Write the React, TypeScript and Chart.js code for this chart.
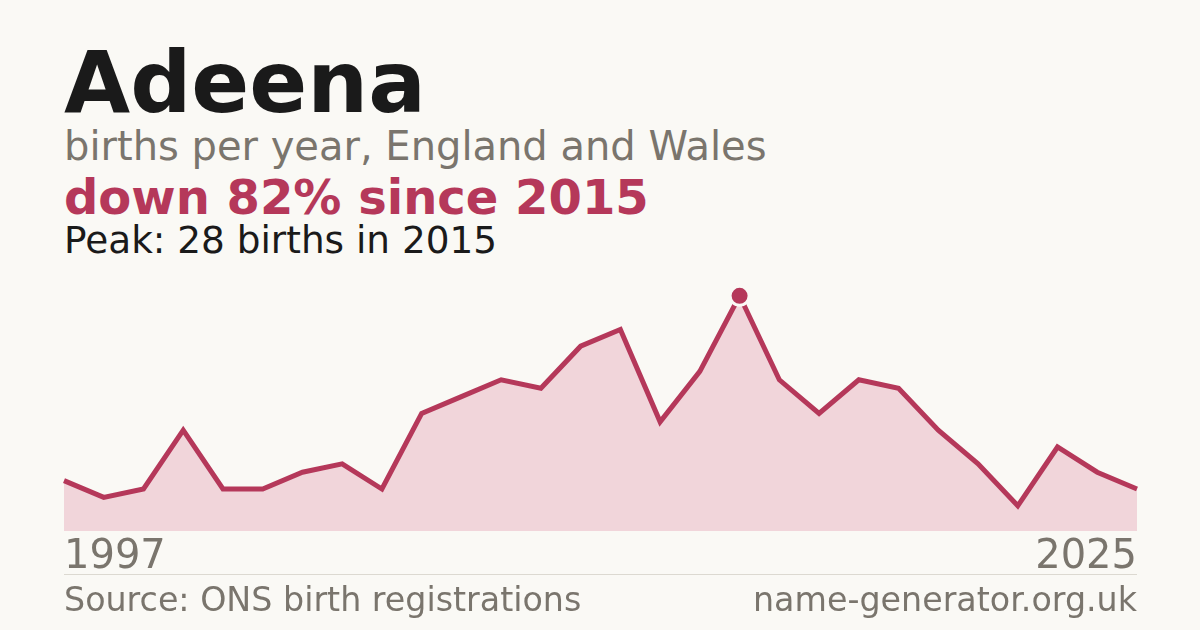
import React, { useEffect, useRef } from "react";
import { Chart, registerables } from "chart.js";

Chart.register(...registerables);

const years = [
  "1997", "1998", "1999", "2001", "2002", "2003", "2004", "2005", "2006", "2007",
  "2008", "2009", "2010", "2011", "2012", "2013", "2014", "2015", "2016", "2017",
  "2018", "2019", "2020", "2021", "2022", "2023", "2024", "2025",
];
const births = [6, 4, 5, 12, 5, 5, 7, 8, 5, 14, 16, 18, 17, 22, 24, 13, 19, 28, 18, 14, 18, 17, 12, 8, 3, 10, 7, 5];
const peakYear = "2015";

const BG = "#faf9f5";
const CRIMSON = "#b5385a";
const FILL = "#f1d5da";
const GREY = "#7a756d";
const FONT = "'DejaVu Sans', sans-serif";

function AreaChart() {
  const ref = useRef<HTMLCanvasElement | null>(null);
  useEffect(() => {
    if (!ref.current) return;
    const peakIdx = years.indexOf(peakYear);
    const chart = new Chart(ref.current, {
      type: "line",
      data: {
        labels: years,
        datasets: [
          {
            data: births,
            borderColor: CRIMSON,
            borderWidth: 5,
            backgroundColor: FILL,
            fill: "origin",
            tension: 0,
            clip: false,
            pointRadius: births.map((_, i) => (i === peakIdx ? 9.5 : 0)),
            pointBackgroundColor: CRIMSON,
            pointBorderColor: BG,
            pointBorderWidth: 3,
          },
        ],
      },
      options: {
        animation: false,
        responsive: true,
        maintainAspectRatio: false,
        layout: { padding: 0, autoPadding: false },
        plugins: { legend: { display: false }, tooltip: { enabled: false } },
        scales: {
          x: {
            type: "category",
            offset: false,
            grid: { display: false, drawTicks: false },
            border: { display: false },
            ticks: {
              autoSkip: false,
              maxRotation: 0,
              minRotation: 0,
              align: "inner",
              padding: 3,
              color: GREY,
              font: { family: FONT, size: 40 },
              callback: (_v: any, i: number) =>
                i === 0 || i === years.length - 1 ? years[i] : "",
            },
          },
          y: { display: false, min: 0, max: 30 },
        },
      },
    });
    return () => chart.destroy();
  }, []);
  return <canvas ref={ref} />;
}

const textBase: React.CSSProperties = {
  position: "absolute",
  left: 64,
  margin: 0,
  fontFamily: FONT,
  lineHeight: 1,
  whiteSpace: "nowrap",
};

export default function App() {
  return (
    <div
      style={{
        position: "fixed",
        left: 0,
        top: 0,
        width: 1200,
        height: 630,
        background: BG,
        overflow: "hidden",
      }}
    >
      <div style={{ ...textBase, top: 40, fontSize: 85.5, fontWeight: 700, color: "#1a1a1a" }}>Adeena</div>
      <div style={{ ...textBase, top: 126, fontSize: 40, color: GREY }}>births per year, England and Wales</div>
      <div style={{ ...textBase, top: 173, fontSize: 48, fontWeight: 700, color: CRIMSON }}>down 82% since 2015</div>
      <div style={{ ...textBase, top: 222, fontSize: 37.4, color: "#1a1a1a" }}>Peak: 28 births in 2015</div>
      <div style={{ position: "absolute", left: 61, top: 279, width: 1079, height: 306 }}>
        <AreaChart />
      </div>
      <div style={{ position: "absolute", left: 64, top: 574, width: 1073, height: 1, background: "#dcd9d1" }} />
      <div style={{ ...textBase, top: 583, fontSize: 33.3, color: GREY }}>Source: ONS birth registrations</div>
      <div style={{ ...textBase, left: "auto", right: 63, top: 583, fontSize: 33.3, color: GREY }}>name-generator.org.uk</div>
    </div>
  );
}
